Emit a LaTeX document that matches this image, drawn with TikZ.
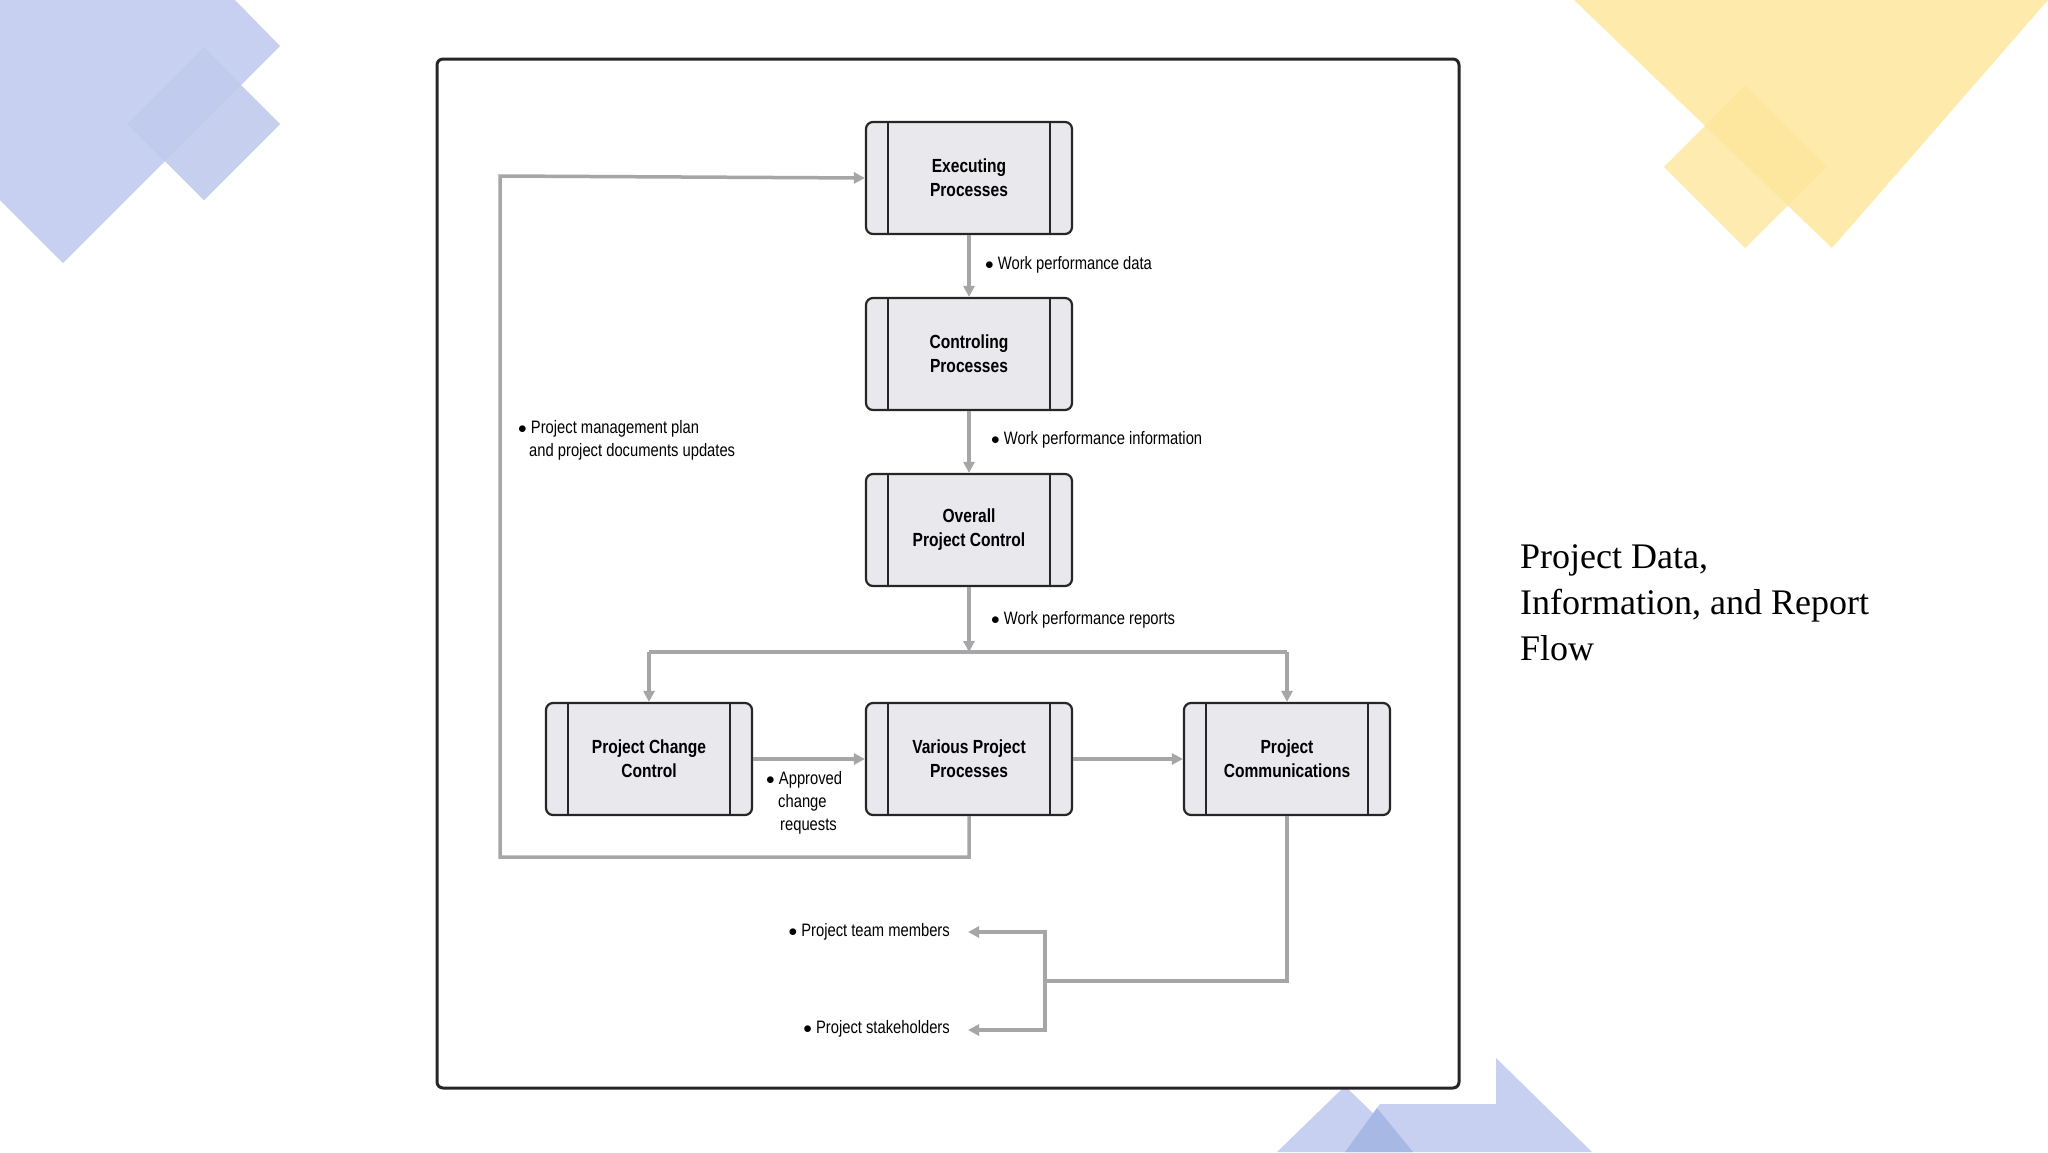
\documentclass[tikz,border=0pt]{standalone}
\usepackage{fontspec}
\setmainfont{Liberation Serif}
\newfontfamily\boxfont[FakeStretch=0.82]{Liberation Sans}
\usetikzlibrary{arrows.meta}
\definecolor{lblue}{HTML}{C7D0F0}
\definecolor{dblue}{HTML}{9AAEE0}
\definecolor{lyel}{HTML}{FEEAAA}
\definecolor{dyel}{HTML}{FDDA70}
\definecolor{linegray}{HTML}{A6A6A8}
\definecolor{boxfill}{HTML}{E9E9ED}
\begin{document}
\begin{tikzpicture}[x=1pt,y=-1pt,
  proc/.style={draw=black!85,line width=2.2pt,fill=boxfill,rounded corners=7pt,minimum width=206pt,minimum height=112pt,
    font=\boxfont\fontsize{19}{24}\selectfont\bfseries,align=center,
    path picture={\draw[black!85,line width=2pt] ([xshift=22pt]path picture bounding box.north west)--([xshift=22pt]path picture bounding box.south west);
      \draw[black!85,line width=2pt] ([xshift=-22pt]path picture bounding box.north east)--([xshift=-22pt]path picture bounding box.south east);}},
  flow/.style={draw=linegray,line width=3.5pt,-{Triangle[length=11pt,width=11pt]}},
  lab/.style={font=\boxfont\fontsize{18}{23}\selectfont,align=left,inner sep=0pt}]
\useasboundingbox (0,0) rectangle (2048,1152);
% decorations
\fill[lblue] (0,0)--(235,0)--(280,46)--(63,263)--(0,200)--cycle;
\fill[dblue,opacity=0.6] (204,48)--(280,124)--(204,200)--(128,124)--cycle;
\fill[lblue,opacity=0.8] (204,48)--(280,124)--(204,200)--(128,124)--cycle;
\fill[lyel] (1574,0)--(2048,0)--(1832,248)--cycle;
\fill[dyel,opacity=0.5] (1745,86)--(1826,167)--(1745,248)--(1664,167)--cycle;
\fill[lyel,opacity=0.6] (1745,86)--(1826,167)--(1745,248)--(1664,167)--cycle;
\fill[lblue] (1277,1152)--(1345,1086)--(1413,1152)--cycle;
\fill[lblue] (1345,1152)--(1380,1104)--(1496,1104)--(1496,1058)--(1592,1152)--cycle;
\fill[dblue,opacity=0.7] (1345,1152)--(1377,1108)--(1413,1152)--cycle;
% frame
\draw[black!85,line width=3pt,rounded corners=6pt,fill=white] (437,59) rectangle (1459,1088);
% nodes
\node[proc] (exe) at (969,178) {Executing\\Processes};
\node[proc] (ctl) at (969,354) {Controling\\Processes};
\node[proc] (opc) at (969,530) {Overall\\Project Control};
\node[proc] (pcc) at (649,759) {Project Change\\Control};
\node[proc] (vpp) at (969,759) {Various Project\\Processes};
\node[proc] (com) at (1287,759) {Project\\Communications};
\coordinate (split) at (969,652);
\coordinate (br) at (1045,981);
\coordinate (tm) at (968,932);
\coordinate (sh) at (968,1030);
% connectors
\draw[flow] (exe)--(ctl);
\draw[flow] (ctl)--(opc);
\draw[flow] (opc)--(split);
\draw[flow] (649,652)--(pcc.north);
\draw[draw=linegray,line width=3.5pt] (649,652)--(1287,652);
\draw[flow] (1287,652)--(com.north);
\draw[flow] (pcc)--(vpp);
\draw[flow] (vpp)--(com);
\draw[flow] (vpp.south)--(969,857)--(500,857)--(500,176)--(exe.west);
\draw[draw=linegray,line width=3.5pt] (com.south)--(1287,981)--(br);
\draw[flow] (1045,932)--(br|-sh)--(sh);
\draw[flow] (br)--(1045,932)--(tm);
% labels
\node[lab,anchor=west] (l1) at (985,265) {$\bullet$ Work performance data};
\node[lab,anchor=west] (l2) at (991,440) {$\bullet$ Work performance information};
\node[lab,anchor=west] (l3) at (991,620) {$\bullet$ Work performance reports};
\node[lab,anchor=north west] (l4) at (518,420) {$\bullet$ Project management plan\\\hspace*{11pt}and project documents updates};
\node[lab,anchor=north west] (l5) at (766,771) {$\bullet$ Approved\\\hspace*{12pt}change\\\hspace*{14pt}requests};
\node[lab,anchor=east] (l6) at (950,932) {$\bullet$ Project team members};
\node[lab,anchor=east] (l7) at (950,1029) {$\bullet$ Project stakeholders};
\node[anchor=north west,align=left,inner sep=0pt,font=\fontsize{36}{46}\selectfont] (title) at (1520,544) {Project Data,\\Information, and Report\\Flow};
\end{tikzpicture}
\end{document}
